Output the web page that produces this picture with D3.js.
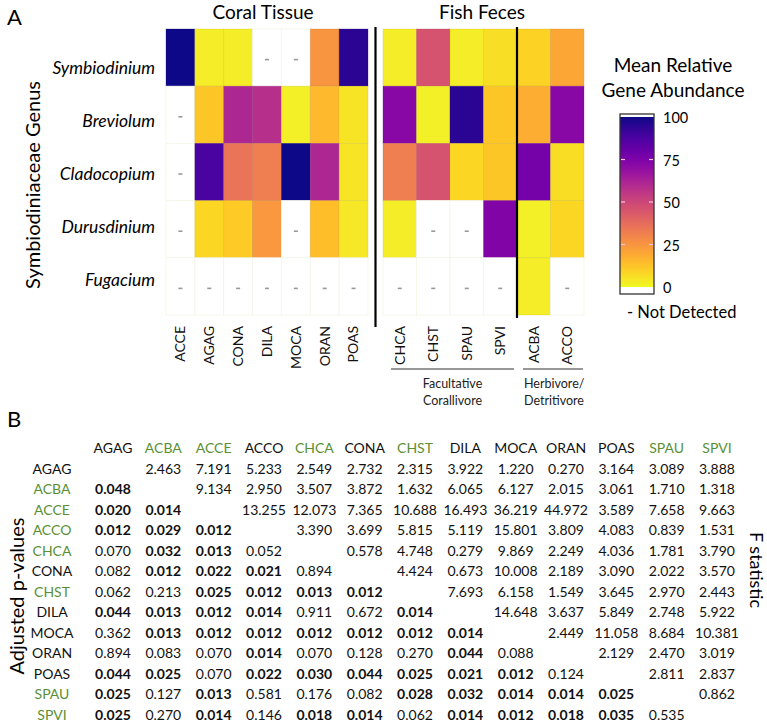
<!DOCTYPE html>
<html>
<head>
<meta charset="utf-8">
<script src="https://cdn.jsdelivr.net/npm/d3@7"></script>
<style>
  html, body { margin: 0; padding: 0; background: #fff; }
  svg { display: block; font-family: Lato, "Open Sans", sans-serif; }
</style>
</head>
<body>
<svg id="chart" width="767" height="724"></svg>
<script>
// ---------- Panel A data ----------
const genera = ["Symbiodinium", "Breviolum", "Cladocopium", "Durusdinium", "Fugacium"];
const coralSpecies = ["ACCE", "AGAG", "CONA", "DILA", "MOCA", "ORAN", "POAS"];
const fishSpecies = ["CHCA", "CHST", "SPAU", "SPVI", "ACBA", "ACCO"];
// null = not detected
const coralValues = [
  [100, 3, 3, null, null, 25, 95],
  [null, 12, 61, 58, 2, 15, 5],
  [null, 88, 35, 32, 100, 61, 5],
  [null, 8, 11, 24, null, 14, 4],
  [null, null, null, null, null, null, null]
];
const fishValues = [
  [3, 46, 3, 6, 9, 20],
  [72, 2, 95, 12, 18, 72],
  [32, 46, 8, 12, 77, 7],
  [3, null, null, 74, 2, 8],
  [null, null, null, null, 3, null]
];
const legendTicks = [0, 25, 50, 75, 100];
const fishGroups = [
  { label: ["Facultative", "Corallivore"], members: ["CHCA", "CHST", "SPAU", "SPVI"] },
  { label: ["Herbivore/", "Detritivore"], members: ["ACBA", "ACCO"] }
];

// ---------- Panel B data ----------
const tableSpecies = ["AGAG", "ACBA", "ACCE", "ACCO", "CHCA", "CONA", "CHST", "DILA", "MOCA", "ORAN", "POAS", "SPAU", "SPVI"];
const greenHeader = ["ACBA", "ACCE", "CHCA", "CHST", "SPAU", "SPVI"];
const greenRows = ["ACBA", "ACCE", "ACCO", "CHCA", "CHST", "SPAU", "SPVI"];
// upper triangle: F statistics (row i, columns j > i)
const fStats = [
  [2.463, 7.191, 5.233, 2.549, 2.732, 2.315, 3.922, 1.220, 0.270, 3.164, 3.089, 3.888],
  [9.134, 2.950, 3.507, 3.872, 1.632, 6.065, 6.127, 2.015, 3.061, 1.710, 1.318],
  [13.255, 12.073, 7.365, 10.688, 16.493, 36.219, 44.972, 3.589, 7.658, 9.663],
  [3.390, 3.699, 5.815, 5.119, 15.801, 3.809, 4.083, 0.839, 1.531],
  [0.578, 4.748, 0.279, 9.869, 2.249, 4.036, 1.781, 3.790],
  [4.424, 0.673, 10.008, 2.189, 3.090, 2.022, 3.570],
  [7.693, 6.158, 1.549, 3.645, 2.970, 2.443],
  [14.648, 3.637, 5.849, 2.748, 5.922],
  [2.449, 11.058, 8.684, 10.381],
  [2.129, 2.470, 3.019],
  [2.811, 2.837],
  [0.862],
  []
];
// lower triangle: adjusted p-values (row i, columns j < i)
const pValues = [
  [],
  [0.048],
  [0.020, 0.014],
  [0.012, 0.029, 0.012],
  [0.070, 0.032, 0.013, 0.052],
  [0.082, 0.012, 0.022, 0.021, 0.894],
  [0.062, 0.213, 0.025, 0.012, 0.013, 0.012],
  [0.044, 0.013, 0.012, 0.014, 0.911, 0.672, 0.014],
  [0.362, 0.013, 0.012, 0.012, 0.012, 0.012, 0.012, 0.014],
  [0.894, 0.083, 0.070, 0.014, 0.070, 0.128, 0.270, 0.044, 0.088],
  [0.044, 0.025, 0.070, 0.022, 0.030, 0.044, 0.025, 0.021, 0.012, 0.124],
  [0.025, 0.127, 0.013, 0.581, 0.176, 0.082, 0.028, 0.032, 0.014, 0.014, 0.025],
  [0.025, 0.270, 0.014, 0.146, 0.018, 0.014, 0.062, 0.014, 0.012, 0.018, 0.035, 0.535]
];

// ---------- drawing ----------
const svg = d3.select("#chart");
const GREEN = "#5a8f34";
const color = v => d3.interpolatePlasma(1 - v / 100);

// Panel A
svg.append("text").attr("x", 7).attr("y", 25).attr("font-size", 22).text("A");

const y = d3.scaleBand().domain(genera).range([29, 315]);
const xCoral = d3.scaleBand().domain(coralSpecies).range([166, 368]);
const xFish = d3.scaleBand().domain(fishSpecies).range([383, 584]);
const yLabel = d3.scalePoint().domain(genera).range([68, 280]);

function drawBlock(xs, species, values) {
  const g = svg.append("g");
  const cells = [];
  values.forEach((row, i) => row.forEach((v, j) => cells.push({ g: genera[i], s: species[j], v })));
  g.selectAll("rect").data(cells).join("rect")
    .attr("x", d => xs(d.s)).attr("y", d => y(d.g))
    .attr("width", xs.bandwidth()).attr("height", y.bandwidth())
    .attr("fill", d => d.v == null ? "#fff" : color(d.v))
    .attr("stroke", d => d.v == null ? "#f4f4e8" : d3.color(color(d.v)).darker(0.6))
    .attr("stroke-opacity", d => d.v == null ? 1 : 0.35)
    .attr("stroke-width", 0.8);
  g.selectAll("line.nd").data(cells.filter(d => d.v == null)).join("line")
    .attr("class", "nd")
    .attr("x1", d => xs(d.s) + xs.bandwidth() / 2 - 2)
    .attr("x2", d => xs(d.s) + xs.bandwidth() / 2 + 2)
    .attr("y1", d => y(d.g) + y.bandwidth() / 2 + 2)
    .attr("y2", d => y(d.g) + y.bandwidth() / 2 + 2)
    .attr("stroke", "#999").attr("stroke-width", 1.6);
  const ax = g.append("g").attr("transform", "translate(0,322)")
    .call(d3.axisBottom(xs).tickSize(0).tickPadding(0));
  ax.select(".domain").remove();
  ax.selectAll("text")
    .attr("font-size", 14).attr("font-family", "Lato, sans-serif").attr("fill", "#111")
    .attr("text-anchor", "end")
    .attr("transform", "rotate(-90)").attr("x", -4).attr("y", 0).attr("dy", "0.35em");
}
drawBlock(xCoral, coralSpecies, coralValues);
drawBlock(xFish, fishSpecies, fishValues);

// row labels
svg.append("g").selectAll("text").data(genera).join("text")
  .attr("x", 155).attr("y", d => yLabel(d)).attr("dy", "0.35em")
  .attr("text-anchor", "end").attr("font-size", 17.5).attr("font-style", "italic")
  .text(d => d);

// y title
svg.append("text").attr("transform", "translate(40,185) rotate(-90)")
  .attr("text-anchor", "middle").attr("font-size", 20).text("Symbiodiniaceae Genus");

// titles
svg.append("text").attr("x", 263).attr("y", 19).attr("text-anchor", "middle").attr("font-size", 19).text("Coral Tissue");
svg.append("text").attr("x", 482).attr("y", 19).attr("text-anchor", "middle").attr("font-size", 19).text("Fish Feces");

// separator lines
svg.append("line").attr("x1", 375.5).attr("x2", 375.5).attr("y1", 27).attr("y2", 327)
  .attr("stroke", "#000").attr("stroke-width", 2.2);
svg.append("line").attr("x1", xFish("ACBA")).attr("x2", xFish("ACBA")).attr("y1", 27).attr("y2", 318)
  .attr("stroke", "#000").attr("stroke-width", 2.2);

// fish group brackets
fishGroups.forEach((grp, k) => {
  const x0 = xFish(grp.members[0]) + (k === 0 ? 8 : 6);
  const x1 = xFish(grp.members[grp.members.length - 1]) + xFish.bandwidth() - (k === 0 ? 3 : 1);
  svg.append("line").attr("x1", x0).attr("x2", x1).attr("y1", 369).attr("y2", 369)
    .attr("stroke", "#333").attr("stroke-width", 1.2);
  const anchor = k === 0 ? "middle" : "start";
  const tx = k === 0 ? (x0 + x1) / 2 : x0 + 1;
  grp.label.forEach((l, i) => {
    svg.append("text").attr("x", tx).attr("y", 388 + i * 17)
      .attr("text-anchor", anchor).attr("font-size", 12.5).attr("fill", "#222").text(l);
  });
});

// legend
svg.append("text").attr("x", 673).attr("y", 72).attr("text-anchor", "middle").attr("font-size", 19).text("Mean Relative");
svg.append("text").attr("x", 673).attr("y", 97).attr("text-anchor", "middle").attr("font-size", 19).text("Gene Abundance");
const ly = d3.scaleLinear().domain([0, 100]).range([287, 117]);
const defs = svg.append("defs");
const grad = defs.append("linearGradient").attr("id", "lg").attr("x1", 0).attr("x2", 0).attr("y1", 1).attr("y2", 0);
d3.range(0, 101, 5).forEach(v => grad.append("stop").attr("offset", v / 100).attr("stop-color", color(v)));
const lx0 = 620, lw = 34;
svg.append("rect").attr("x", lx0).attr("y", ly(100)).attr("width", lw).attr("height", ly(0) - ly(100)).attr("fill", "url(#lg)");
svg.append("rect").attr("x", lx0).attr("y", ly(0)).attr("width", lw).attr("height", 7).attr("fill", "#fff");
svg.append("rect").attr("x", lx0).attr("y", 114).attr("width", lw).attr("height", ly(0) + 7 - 114)
  .attr("fill", "none").attr("stroke", "#333").attr("stroke-width", 1.3);
const lt = svg.append("g");
lt.selectAll("line.l").data(legendTicks.filter(v => v > 0 && v < 100)).join("line")
  .attr("x1", lx0 + 1).attr("x2", lx0 + 5).attr("y1", d => ly(d)).attr("y2", d => ly(d))
  .attr("stroke", "#f4c6e6").attr("stroke-width", 1.2);
lt.selectAll("line.r").data(legendTicks.filter(v => v > 0 && v < 100)).join("line")
  .attr("x1", lx0 + lw - 5).attr("x2", lx0 + lw - 1).attr("y1", d => ly(d)).attr("y2", d => ly(d))
  .attr("stroke", "#f4c6e6").attr("stroke-width", 1.2);
lt.selectAll("text").data(legendTicks).join("text")
  .attr("x", 663).attr("y", d => ly(d) + 1).attr("dy", "0.35em")
  .attr("font-size", 14.5).text(d => d);
svg.append("text").attr("x", 627).attr("y", 318).attr("font-size", 16.5).text("- Not Detected");

// Panel B
svg.append("text").attr("x", 7).attr("y", 427).attr("font-size", 22).text("B");

const colX = d3.scalePoint().domain(tableSpecies).range([113, 717]);
const rowY = d3.scalePoint().domain(tableSpecies).range([469, 715]);

svg.append("g").selectAll("text").data(tableSpecies).join("text")
  .attr("x", d => colX(d)).attr("y", 448).attr("dy", "0.35em").attr("text-anchor", "middle")
  .attr("font-size", 14).attr("fill", d => greenHeader.includes(d) ? GREEN : "#111").text(d => d);
svg.append("g").selectAll("text").data(tableSpecies).join("text")
  .attr("x", 52).attr("y", d => rowY(d)).attr("dy", "0.35em").attr("text-anchor", "middle")
  .attr("font-size", 14).attr("fill", d => greenRows.includes(d) ? GREEN : "#111").text(d => d);

const tcells = [];
tableSpecies.forEach((r, i) => {
  fStats[i].forEach((v, k) => tcells.push({ r, c: tableSpecies[i + 1 + k], v, bold: false }));
  pValues[i].forEach((v, j) => tcells.push({ r, c: tableSpecies[j], v, bold: v < 0.05 }));
});
svg.append("g").selectAll("text").data(tcells).join("text")
  .attr("x", d => colX(d.c)).attr("y", d => rowY(d.r)).attr("dy", "0.35em")
  .attr("text-anchor", "middle").attr("font-size", 14)
  .attr("font-weight", d => d.bold ? 700 : 400).attr("fill", "#111")
  .text(d => d.v.toFixed(3));

svg.append("text").attr("transform", "translate(24,596) rotate(-90)")
  .attr("text-anchor", "middle").attr("font-size", 20).text("Adjusted p-values");
svg.append("text").attr("transform", "translate(750,570) rotate(90)")
  .attr("text-anchor", "middle").attr("font-size", 18).text("F statistic");
</script>
</body>
</html>
